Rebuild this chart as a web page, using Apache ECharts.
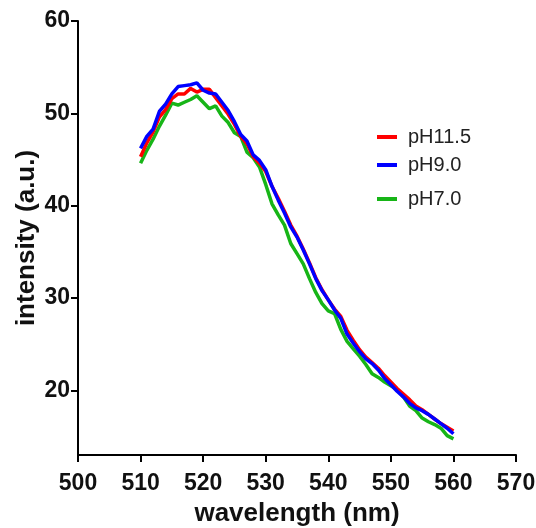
<!DOCTYPE html>
<html><head><meta charset="utf-8">
<script src="https://cdn.jsdelivr.net/npm/echarts@6/dist/echarts.min.js"></script>
<style>html,body{margin:0;padding:0;background:#fff}#c{width:536px;height:528px}</style>
</head><body><div id="c"></div>
<script>
const wavelengths = [];
for (let w = 510; w <= 560; w++) wavelengths.push(w);
const pH11_5 = [45.3,46.8,48.0,49.6,50.4,51.6,52.1,52.1,52.7,52.3,52.6,52.6,51.7,50.8,49.9,48.8,47.5,46.7,45.3,44.6,43.7,42.1,40.8,39.4,37.9,36.7,35.3,33.8,32.2,30.9,29.8,28.8,28.0,26.5,25.4,24.4,23.6,23.0,22.4,21.6,20.9,20.2,19.6,19.0,18.3,17.9,17.4,16.9,16.4,16.0,15.6];
const pH9_0 = [46.2,47.5,48.3,50.2,51.0,52.1,52.9,53.0,53.1,53.3,52.5,52.2,52.1,51.2,50.3,49.1,47.7,47.0,45.5,44.9,43.9,42.1,40.6,39.2,37.7,36.6,35.2,33.7,32.1,30.8,29.8,28.7,27.8,26.1,25.1,24.2,23.4,22.9,22.2,21.3,20.6,19.9,19.3,18.6,18.1,17.8,17.4,16.9,16.4,15.9,15.3];
const pH7_0 = [44.6,46.0,47.2,48.6,49.8,51.1,50.9,51.2,51.5,51.9,51.2,50.5,50.8,49.7,49.0,47.9,47.5,45.8,45.2,44.2,42.3,40.2,39.0,37.9,35.9,34.8,33.7,32.1,30.6,29.4,28.6,28.3,26.6,25.3,24.5,23.7,22.8,21.8,21.4,20.9,20.5,20.1,19.3,18.3,17.8,17.0,16.6,16.3,15.9,15.1,14.75];
const yTicks = [20, 30, 40, 50, 60];
const seriesNames = ['pH11.5', 'pH9.0', 'pH7.0'];

const pairs = arr => wavelengths.map((w, i) => [w, arr[i]]);
const FONT = '"Liberation Sans", Arial, sans-serif';
const colors = {'pH11.5': '#ff0000', 'pH9.0': '#0000ff', 'pH7.0': '#17b517'};
const legendTops = [122, 150, 184];

const chart = echarts.init(document.getElementById('c'), null, {renderer: 'canvas'});
chart.setOption({
  animation: false,
  backgroundColor: '#fff',
  grid: {left: 78, right: 20, top: 21, bottom: 73, containLabel: false, outerBoundsMode: 'none'},
  xAxis: {
    type: 'value', min: 500, max: 570, interval: 10,
    name: 'wavelength (nm)', nameLocation: 'middle', nameGap: 46, nameMoveOverlap: false,
    nameTextStyle: {fontFamily: FONT, fontWeight: 'bold', fontSize: 26, color: '#111'},
    axisLine: {lineStyle: {color: '#000', width: 2}},
    axisTick: {show: true, length: 7, lineStyle: {color: '#000', width: 2}},
    axisLabel: {fontFamily: FONT, fontWeight: 'bold', fontSize: 23, color: '#111', margin: 17},
    splitLine: {show: false}
  },
  yAxis: {
    type: 'value', min: 13, max: 60,
    name: 'intensity (a.u.)', nameLocation: 'middle', nameGap: 38, nameMoveOverlap: false,
    nameTextStyle: {fontFamily: FONT, fontWeight: 'bold', fontSize: 26, color: '#111'},
    axisLine: {show: true, lineStyle: {color: '#000', width: 2}},
    axisTick: {show: true, length: 7, customValues: yTicks, lineStyle: {color: '#000', width: 2}},
    axisLabel: {fontFamily: FONT, fontWeight: 'bold', fontSize: 23, color: '#111', margin: 8, customValues: yTicks},
    splitLine: {show: false}
  },
  legend: seriesNames.map((n, i) => ({
    data: [n], orient: 'vertical', left: 372, top: legendTops[i],
    icon: 'rect', itemWidth: 20, itemHeight: 4,
    textStyle: {fontFamily: FONT, fontSize: 20, color: '#222', padding: [0, 0, 0, 6]}
  })),
  series: [
    {name: 'pH7.0', type: 'line', data: pairs(pH7_0), showSymbol: false, symbol: 'none', z: 2,
     lineStyle: {width: 3.5, color: colors['pH7.0']}, itemStyle: {color: colors['pH7.0']}},
    {name: 'pH11.5', type: 'line', data: pairs(pH11_5), showSymbol: false, symbol: 'none', z: 3,
     lineStyle: {width: 3.5, color: colors['pH11.5']}, itemStyle: {color: colors['pH11.5']}},
    {name: 'pH9.0', type: 'line', data: pairs(pH9_0), showSymbol: false, symbol: 'none', z: 4,
     lineStyle: {width: 3.5, color: colors['pH9.0']}, itemStyle: {color: colors['pH9.0']}}
  ]
});
</script></body></html>
